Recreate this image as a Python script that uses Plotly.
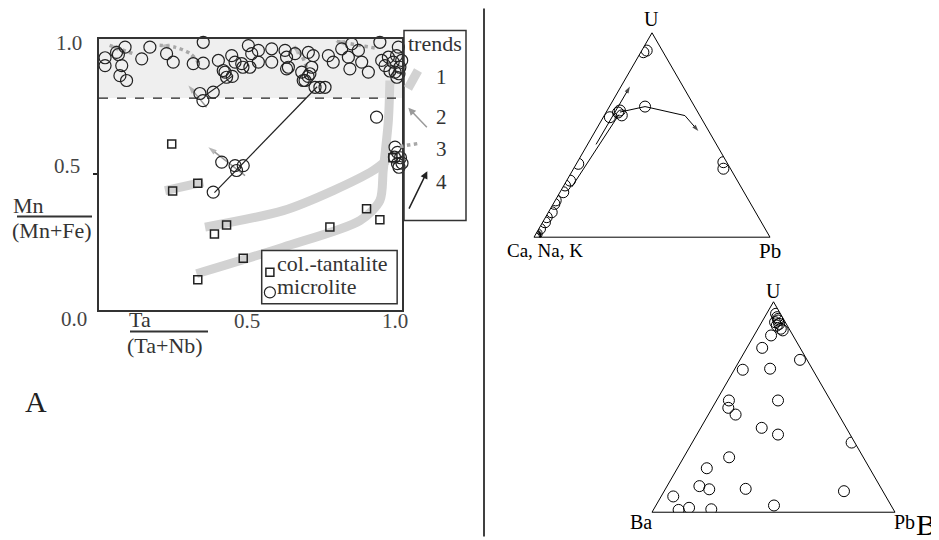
import plotly.graph_objects as go

W, H = 939, 540
OX, OY = 8, 7.5  # page (body margin) offset compensation
def PX(x): return (x - OX) / W
def PY(y): return 1 - (y - OY) / H

FONT = "Liberation Serif"

# ---------------- Panel A data ----------------
micro_x = [0.020, 0.020, 0.058, 0.064, 0.086, 0.075, 0.069, 0.091, 0.141, 0.168, 0.223, 0.245,
           0.311, 0.344, 0.344, 0.394, 0.410, 0.438, 0.449, 0.471, 0.493, 0.504, 0.526, 0.526,
           0.498, 0.570, 0.570, 0.614, 0.619, 0.625, 0.647, 0.691, 0.707, 0.702, 0.757, 0.773,
           0.801, 0.834, 0.823, 0.856, 0.867, 0.889, 0.927, 0.933, 0.955, 0.971, 0.982, 0.988,
           0.993, 0.977, 0.944, 0.999, 0.416, 0.421, 0.440, 0.475, 0.619, 0.669, 0.674, 0.690,
           0.696, 0.680, 0.713, 0.729, 0.746, 0.828, 0.983, 0.960, 0.990, 0.333, 0.343, 0.377,
           0.916, 0.977, 0.985, 0.975, 0.985, 0.990, 0.995, 1.000, 0.405, 0.449, 0.476, 0.454,
           0.377]
micro_y = [0.929, 0.900, 0.949, 0.941, 0.968, 0.900, 0.863, 0.845, 0.925, 0.968, 0.944, 0.913,
           0.907, 0.986, 0.909, 0.919, 0.882, 0.937, 0.913, 0.907, 0.974, 0.944, 0.956, 0.913,
           0.894, 0.962, 0.913, 0.956, 0.931, 0.894, 0.944, 0.949, 0.937, 0.894, 0.937, 0.913,
           0.962, 0.980, 0.931, 0.956, 0.913, 0.876, 0.986, 0.919, 0.931, 0.913, 0.937, 0.968,
           0.894, 0.876, 0.900, 0.919, 0.876, 0.857, 0.860, 0.894, 0.888, 0.876, 0.845, 0.860,
           0.870, 0.845, 0.820, 0.820, 0.820, 0.888, 0.857, 0.880, 0.870, 0.797, 0.771, 0.802,
           0.710, 0.599, 0.580, 0.562, 0.538, 0.525, 0.560, 0.540, 0.544, 0.531, 0.531, 0.513,
           0.433]

col_x = [0.240, 0.243, 0.326, 0.381, 0.421, 0.476, 0.326, 0.762, 0.883, 0.927, 0.970]
col_y = [0.611, 0.437, 0.466, 0.279, 0.312, 0.189, 0.110, 0.304, 0.372, 0.331, 0.560]

# trend 1 (thick grey bands)
t1a_x = [0.218, 0.344]
t1a_y = [0.439, 0.470]
t1b_x = [0.350, 0.608, 0.773, 0.905, 0.949]
t1b_y = [0.304, 0.365, 0.439, 0.513, 0.550]
t1c_x = [0.322, 0.608, 0.861, 0.927, 0.938, 0.955, 0.960]
t1c_y = [0.132, 0.230, 0.328, 0.402, 0.513, 0.697, 0.845]
# trend 2 (thin grey arrows)
t2a_x = [0.482, 0.361]
t2a_y = [0.494, 0.599]
t2b_x = [0.355, 0.295]
t2b_y = [0.746, 0.827]
# trend 3 (grey dotted arrows)
t3a_x = [0.110, 0.035]
t3a_y = [0.945, 0.975]
t3b_x = [0.330, 0.300, 0.250, 0.200]
t3b_y = [0.910, 0.945, 0.968, 0.975]
t3c_x = [0.685, 0.669, 0.641]
t3c_y = [0.894, 0.937, 0.974]
t3d_x = [0.910, 0.780]
t3d_y = [0.965, 0.990]
# trend 4 (black lines)
t4a_x = [0.381, 0.720]
t4a_y = [0.431, 0.822]
t4b_x = [0.350, 0.443]
t4b_y = [0.790, 0.863]

mn_boundary = 0.78
x_ticks = [0.5, 1.0]
y_ticks = [0.5, 1.0]
tick_text = ["0.5", "1.0"]

# ---------------- Panel B data ----------------
# Ternary 1: a = U, b = Ca+Na+K, c = Pb
tern1_a = [0.905, 0.913, 0.639, 0.620, 0.596, 0.610, 0.587, 0.367, 0.335, 0.359, 0.277, 0.253,
           0.220, 0.180, 0.163, 0.122, 0.098, 0.073, 0.041, 0.017, 0.008, 0.004, 0.012, 0.000]
tern1_c = [0.011, 0.021, 0.151, 0.054, 0.074, 0.051, 0.028, 0.619, 0.635, 0.008, 0.014, 0.005,
           0.014, 0.002, 0.005, 0.014, 0.005, 0.010, 0.005, 0.003, 0.000, 0.002, 0.000, 0.000]
tern1_b = [round(1 - a - c, 3) for a, c in zip(tern1_a, tern1_c)]

arr1_a = [0.612, 0.639, 0.595, 0.519]
arr1_c = [0.058, 0.151, 0.342, 0.437]
arr2_a = [0.454, 0.737]
arr2_c = [0.036, 0.038]
arr3_a = [0.245, 0.600]
arr3_c = [0.037, 0.060]

# Ternary 2: a = U, b = Ba, c = Pb
tern2_a = [0.943, 0.927, 0.911, 0.895, 0.872, 0.903, 0.887, 0.864, 0.919, 0.840, 0.781, 0.724,
           0.677, 0.682, 0.531, 0.496, 0.464, 0.531, 0.401, 0.369, 0.331, 0.261, 0.209, 0.124,
           0.109, 0.111, 0.100, 0.075, 0.011, 0.021, 0.014, 0.032]
tern2_c = [0.039, 0.052, 0.064, 0.076, 0.094, 0.055, 0.070, 0.106, 0.060, 0.070, 0.063, 0.247,
           0.035, 0.145, 0.051, 0.066, 0.112, 0.253, 0.251, 0.334, 0.656, 0.187, 0.121, 0.133,
           0.181, 0.330, 0.740, 0.050, 0.104, 0.142, 0.237, 0.486]
tern2_b = [round(1 - a - c, 3) for a, c in zip(tern2_a, tern2_c)]

fig = go.Figure()

def line_trace(xs, ys, color, width, dash="solid", head=0, shape="linear"):
    n = len(xs)
    return go.Scatter(
        x=xs, y=ys, mode="lines+markers" if head else "lines",
        line=dict(color=color, width=width, dash=dash, shape=shape, smoothing=0.8),
        marker=dict(symbol="arrow", size=[0] * (n - 1) + [head], angleref="previous",
                    color=color, line=dict(width=0)),
        hoverinfo="skip", showlegend=False, cliponaxis=False)

GREY1 = "#d2d2d2"
fig.add_trace(line_trace(t1a_x, t1a_y, GREY1, 9))
fig.add_trace(line_trace(t1b_x, t1b_y, GREY1, 9, shape="spline"))
fig.add_trace(line_trace(t1c_x, t1c_y, GREY1, 9, shape="spline"))
fig.add_trace(line_trace(t2a_x, t2a_y, "#9a9a9a", 1.5, head=9))
fig.add_trace(line_trace(t2b_x, t2b_y, "#9a9a9a", 1.5, head=9))
for xs, ys in [(t3a_x, t3a_y), (t3b_x, t3b_y), (t3c_x, t3c_y), (t3d_x, t3d_y)]:
    fig.add_trace(line_trace(xs, ys, "#a8a8a8", 3.5, dash="dot", head=10, shape="spline"))
fig.add_trace(line_trace(t4a_x, t4a_y, "#222", 1.2))
fig.add_trace(line_trace(t4b_x, t4b_y, "#222", 1.2))

fig.add_trace(go.Scatter(x=col_x, y=col_y, mode="markers", name="col.-tantalite",
                         marker=dict(symbol="square-open", size=8, color="#222", line=dict(width=1.5)),
                         cliponaxis=False, showlegend=False))
fig.add_trace(go.Scatter(x=micro_x, y=micro_y, mode="markers", name="microlite",
                         marker=dict(symbol="circle-open", size=12, color="#222", line=dict(width=1.2)),
                         cliponaxis=False, showlegend=False))

# ternary traces
fig.add_trace(go.Scatterternary(a=tern1_a, b=tern1_b, c=tern1_c, mode="markers", subplot="ternary",
                                marker=dict(symbol="circle-open", size=11, color="black", line=dict(width=1)),
                                showlegend=False))
def tern_line(a_s, c_s, head, sub):
    b_s = [round(1 - a - c, 3) for a, c in zip(a_s, c_s)]
    n = len(a_s)
    return go.Scatterternary(a=a_s, b=b_s, c=c_s, mode="lines+markers" if head else "lines",
                             subplot=sub, line=dict(color="black", width=1),
                             marker=dict(symbol="arrow", size=[0] * (n - 1) + [head],
                                         angleref="previous", color="black", line=dict(width=0)),
                             showlegend=False, hoverinfo="skip")
fig.add_trace(tern_line(arr1_a, arr1_c, 7, "ternary"))
fig.add_trace(tern_line(arr2_a, arr2_c, 7, "ternary"))
fig.add_trace(tern_line(arr3_a, arr3_c, 0, "ternary"))

fig.add_trace(go.Scatterternary(a=tern2_a, b=tern2_b, c=tern2_c, mode="markers", subplot="ternary2",
                                marker=dict(symbol="circle-open", size=11, color="black", line=dict(width=1)),
                                showlegend=False))

tax = dict(showgrid=False, showticklabels=False, ticks="", linecolor="black", linewidth=1,
           title=dict(text=""), min=0)

shapes = [
    dict(type="rect", xref="x", yref="y", x0=0, x1=1, y0=mn_boundary, y1=1,
         fillcolor="#efefef", line=dict(width=0), layer="below"),
    dict(type="line", xref="x", yref="y", x0=0, x1=1, y0=mn_boundary, y1=mn_boundary,
         line=dict(color="#222", width=1.2, dash="dash")),
    # inner legend box
    dict(type="rect", xref="x", yref="y", x0=0.537, x1=0.984, y0=0.021, y1=0.218,
         line=dict(color="#333", width=1.5), fillcolor="white", layer="above"),
    dict(type="rect", xref="x", yref="y", xsizemode="pixel", ysizemode="pixel",
         xanchor=0.564, yanchor=0.137, x0=-4, x1=4, y0=-4, y1=4,
         line=dict(color="#222", width=1.5)),
    dict(type="circle", xref="x", yref="y", xsizemode="pixel", ysizemode="pixel",
         xanchor=0.564, yanchor=0.063, x0=-5.5, x1=5.5, y0=-5.5, y1=5.5,
         line=dict(color="#222", width=1.2)),
    # fraction bars
    dict(type="line", xref="paper", yref="paper", x0=PX(17), x1=PX(92), y0=PY(216), y1=PY(216),
         line=dict(color="#333", width=2.2)),
    dict(type="line", xref="paper", yref="paper", x0=PX(130), x1=PX(208), y0=PY(331), y1=PY(331),
         line=dict(color="#333", width=2.2)),
    # trends box
    dict(type="rect", xref="paper", yref="paper", x0=PX(404), x1=PX(466), y0=PY(220), y1=PY(30),
         line=dict(color="#333", width=1.5)),
    dict(type="line", xref="paper", yref="paper", x0=PX(408), x1=PX(418), y0=PY(88), y1=PY(70),
         line=dict(color=GREY1, width=9)),
    dict(type="line", xref="paper", yref="paper", x0=PX(400), x1=PX(418), y0=PY(146), y1=PY(143),
         line=dict(color="#a8a8a8", width=3.5, dash="dot")),
    # divider
    dict(type="line", xref="paper", yref="paper", x0=PX(484), x1=PX(484), y0=PY(536), y1=PY(8),
         line=dict(color="black", width=1.5)),
]

def ann(text, x, y, size=21, color="#333", xanchor="center"):
    return dict(text=text, x=PX(x), y=PY(y), xref="paper", yref="paper", showarrow=False,
                font=dict(family=FONT, size=size, color=color), xanchor=xanchor, yanchor="middle")

annotations = [
    ann("0.0", 74, 318.5, 21, "#444"),
    ann(tick_text[0], 67, 165, 21, "#444"),
    ann(tick_text[1], 69, 42, 21, "#444"),
    dict(text=tick_text[0], x=x_ticks[0], y=PY(320), xref="x", yref="paper", showarrow=False,
         xanchor="center", yanchor="middle", xshift=-4, font=dict(family=FONT, size=21, color="#444")),
    dict(text=tick_text[1], x=x_ticks[1], y=PY(320), xref="x", yref="paper", showarrow=False,
         xanchor="center", yanchor="middle", xshift=-7, font=dict(family=FONT, size=21, color="#444")),
    ann("Mn", 11, 205, 22, xanchor="left"),
    ann("(Mn+Fe)", 10, 230, 22, xanchor="left"),
    ann("Ta", 127, 319, 22, xanchor="left"),
    ann("(Ta+Nb)", 125, 345, 22, xanchor="left"),
    ann("A", 36, 401, 30, color="#222"),
    ann("trends", 435, 43, 22),
    ann("1", 441.5, 76, 21),
    ann("2", 441.5, 116, 21),
    ann("3", 441.5, 148, 21),
    ann("4", 441.5, 181, 21),
    dict(text="col.-tantalite", x=0.582, y=0.170, xref="x", yref="y", showarrow=False,
         xanchor="left", yanchor="middle", font=dict(family=FONT, size=22, color="#333")),
    dict(text="microlite", x=0.582, y=0.085, xref="x", yref="y", showarrow=False,
         xanchor="left", yanchor="middle", font=dict(family=FONT, size=22, color="#333")),
    # trend legend arrows
    dict(x=PX(408.3), y=PY(107.3), xref="paper", yref="paper", ax=20, ay=21, showarrow=True,
         arrowhead=2, arrowsize=1, arrowwidth=1.5, arrowcolor="#9a9a9a", text=""),
    dict(x=PX(427.3), y=PY(170.7), xref="paper", yref="paper", ax=-19, ay=39, showarrow=True,
         arrowhead=2, arrowsize=1, arrowwidth=1.5, arrowcolor="#222", text=""),
    # ternary labels
    ann("U", 651, 18, 20, "black"),
    ann("Ca, Na, K", 545, 250, 19, "black"),
    ann("Pb", 770, 250, 21, "black"),
    ann("U", 773, 290, 20, "black"),
    ann("Ba", 641, 521, 20, "black"),
    ann("Pb", 904, 521, 20, "black"),
    ann("B", 926, 524, 30, "black"),
]

fig.update_layout(
    width=W, height=H, autosize=False,
    margin=dict(l=0, r=0, t=0, b=0, pad=0, autoexpand=False),
    paper_bgcolor="white", plot_bgcolor="white",
    font=dict(family=FONT, color="#333"),
    xaxis=dict(domain=[PX(99), PX(402)], range=[0, 1], showgrid=False, zeroline=False,
               showline=True, mirror=True, linecolor="#333", linewidth=1.5,
               tickvals=x_ticks, showticklabels=False, ticks="", automargin=False),
    yaxis=dict(domain=[PY(309), PY(38)], range=[0, 1], showgrid=False, zeroline=False,
               showline=True, mirror=True, linecolor="#333", linewidth=1.5,
               tickvals=[y_ticks[0]], showticklabels=False, ticks="outside", ticklen=4,
               tickcolor="#222", tickwidth=2, automargin=False),
    ternary=dict(domain=dict(x=[PX(534), PX(770)], y=[PY(238), PY(31)]), bgcolor="white",
                 aaxis=tax, baxis=tax, caxis=tax),
    ternary2=dict(domain=dict(x=[PX(652), PX(895)], y=[PY(512), PY(301)]), bgcolor="white",
                  aaxis=tax, baxis=tax, caxis=tax),
    shapes=shapes,
    annotations=annotations,
    showlegend=False,
)

fig.write_html("out.html")
